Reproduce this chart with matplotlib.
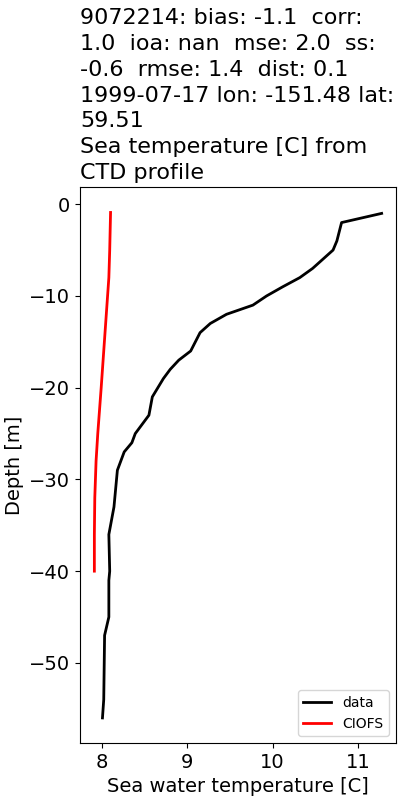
import matplotlib

matplotlib.use("Agg")
import matplotlib.pyplot as plt

# CTD profile (observations)
data_depth = [-1, -2, -4, -5, -6, -7, -8, -9, -10, -11, -12, -13, -14, -16,
              -17, -18, -19, -21, -23, -25, -26, -27, -29, -33, -36, -40,
              -41, -45, -47, -54, -56]
data_temp = [11.28, 10.81, 10.755, 10.71, 10.59, 10.47, 10.32, 10.12, 9.93,
             9.77, 9.46, 9.27, 9.15, 9.04, 8.90, 8.80, 8.72, 8.59, 8.55, 8.39,
             8.35, 8.26, 8.18, 8.14, 8.08, 8.09, 8.08, 8.08, 8.03, 8.02, 8.005]

# CIOFS model profile
model_depth = [-0.9, -5, -8, -12, -16, -20, -25, -28, -32, -36, -40]
model_temp = [8.10, 8.09, 8.08, 8.05, 8.02, 7.99, 7.95, 7.93, 7.915, 7.91, 7.91]

title = (
    "9072214: bias: -1.1  corr:\n"
    "1.0  ioa: nan  mse: 2.0  ss:\n"
    "-0.6  rmse: 1.4  dist: 0.1\n"
    "1999-07-17 lon: -151.48 lat:\n"
    "59.51\n"
    "Sea temperature [C] from\n"
    "CTD profile"
)

plt.rcParams["font.size"] = 14

fig = plt.figure(figsize=(4, 8), dpi=100)
ax = fig.add_axes([0.2, 0.071, 0.79, 0.695])

ax.plot(data_temp, data_depth, color="black", lw=2, label="data")
ax.plot(model_temp, model_depth, color="red", lw=2, label="CIOFS")

ax.set_xlabel("Sea water temperature [C]")
ax.set_ylabel("Depth [m]")
ax.set_title(title, loc="left", fontsize=16, linespacing=1.36)
ax.legend(loc="lower right", fontsize=10)

fig.savefig("out.png", dpi=100)
plt.close(fig)
